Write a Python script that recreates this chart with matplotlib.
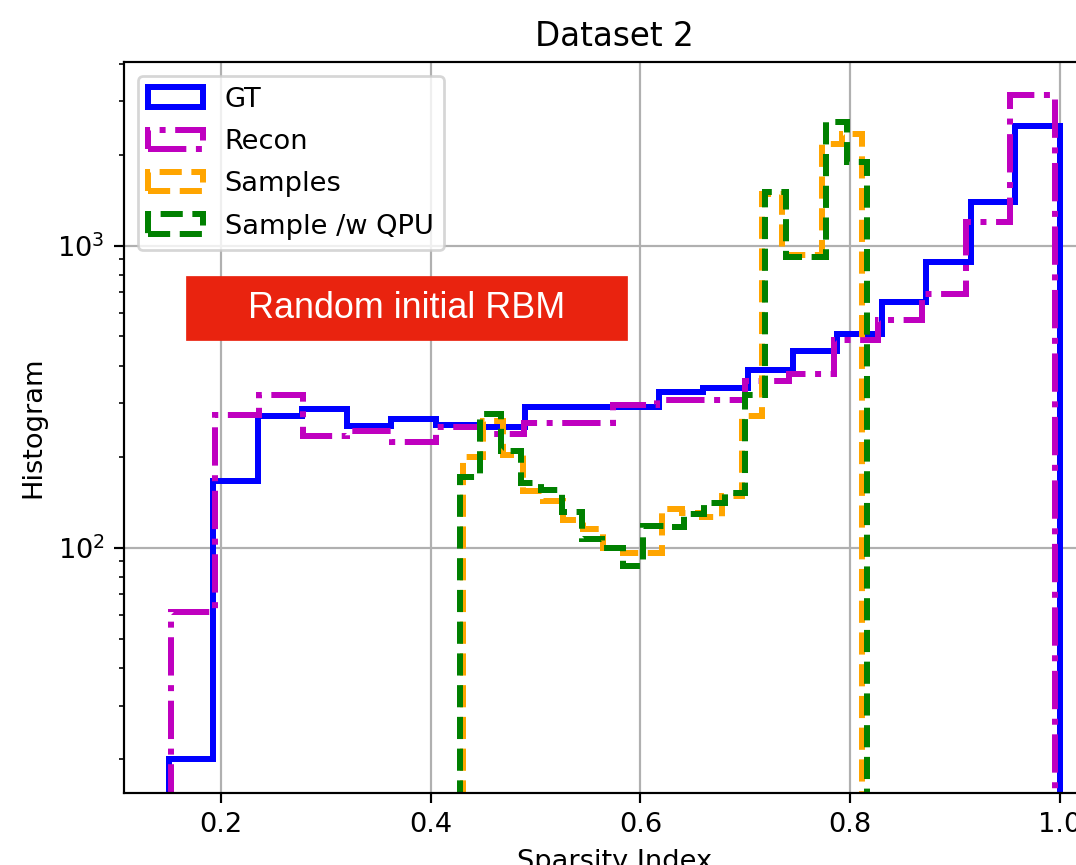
import numpy as np
import matplotlib
matplotlib.use("Agg")
import matplotlib.pyplot as plt
from matplotlib.patches import Rectangle

# bin ranges (min, max sparsity), 20 bins each
gt_range = (0.150, 1.000)
recon_range = (0.152, 0.995)
samples_range = (0.431, 0.811)
qpu_range = (0.428, 0.816)

# counts per bin
gt_counts = [20, 166, 273, 288, 253, 267, 255, 250, 291, 292,
             293, 327, 338, 386, 449, 510, 649, 880, 1390, 2490]
recon_counts = [61, 275, 319, 235, 244, 223, 251, 238, 259, 259,
                297, 307, 309, 357, 376, 485, 568, 692, 1200, 3150]
samples_counts = [199, 262, 203, 154, 143, 123, 115, 100, 96, 96,
                  134, 130, 126, 148, 273, 1483, 930, 930, 2171, 2344]
qpu_counts = [171, 277, 209, 164, 155, 131, 107, 100, 87, 118,
              117, 129, 141, 152, 319, 1502, 915, 915, 2560, 1888]

labels = ["GT", "Recon", "Samples", "Sample /w QPU"]

DPI = 196
fig = plt.figure(figsize=(1076 / DPI, 865 / DPI), dpi=DPI)
ax = fig.add_axes([0.1152, 0.0832, 0.9113, 0.8451])


def draw(rng, counts, **kw):
    edges = np.linspace(rng[0], rng[1], len(counts) + 1)
    centers = (edges[:-1] + edges[1:]) / 2
    ax.hist(centers, bins=edges, weights=counts, histtype="step", **kw)


draw(gt_range, gt_counts, color="b", lw=2.2, ls="-", label=labels[0])
draw(recon_range, recon_counts, color="m", lw=2.2, ls="-.", label=labels[1])
draw(samples_range, samples_counts, color="orange", lw=2.2, ls="--", label=labels[2])
draw(qpu_range, qpu_counts, color="g", lw=2.2, ls="--", label=labels[3])

ax.set_yscale("log")
ax.set_xlim(0.1075, 1.0425)
ax.set_ylim(15.4, 4050)
ax.grid(True)
ax.legend(loc="upper left", labelspacing=0.6)
ax.set_title("Dataset 2")
ax.set_xlabel("Sparsity Index")
ax.set_ylabel("Histogram")

# red annotation box on top of the chart
fig.add_artist(Rectangle((187 / 1076, (865 - 339) / 865), 439 / 1076, 62 / 865,
                         transform=fig.transFigure, color="#E9230F", zorder=5))
fig.text(406.5 / 1076, (865 - 309) / 865, "Random initial RBM", color="white",
         ha="center", va="center", fontsize=13.2, family="Liberation Sans",
         zorder=6)

fig.savefig("out.png", dpi=DPI)
